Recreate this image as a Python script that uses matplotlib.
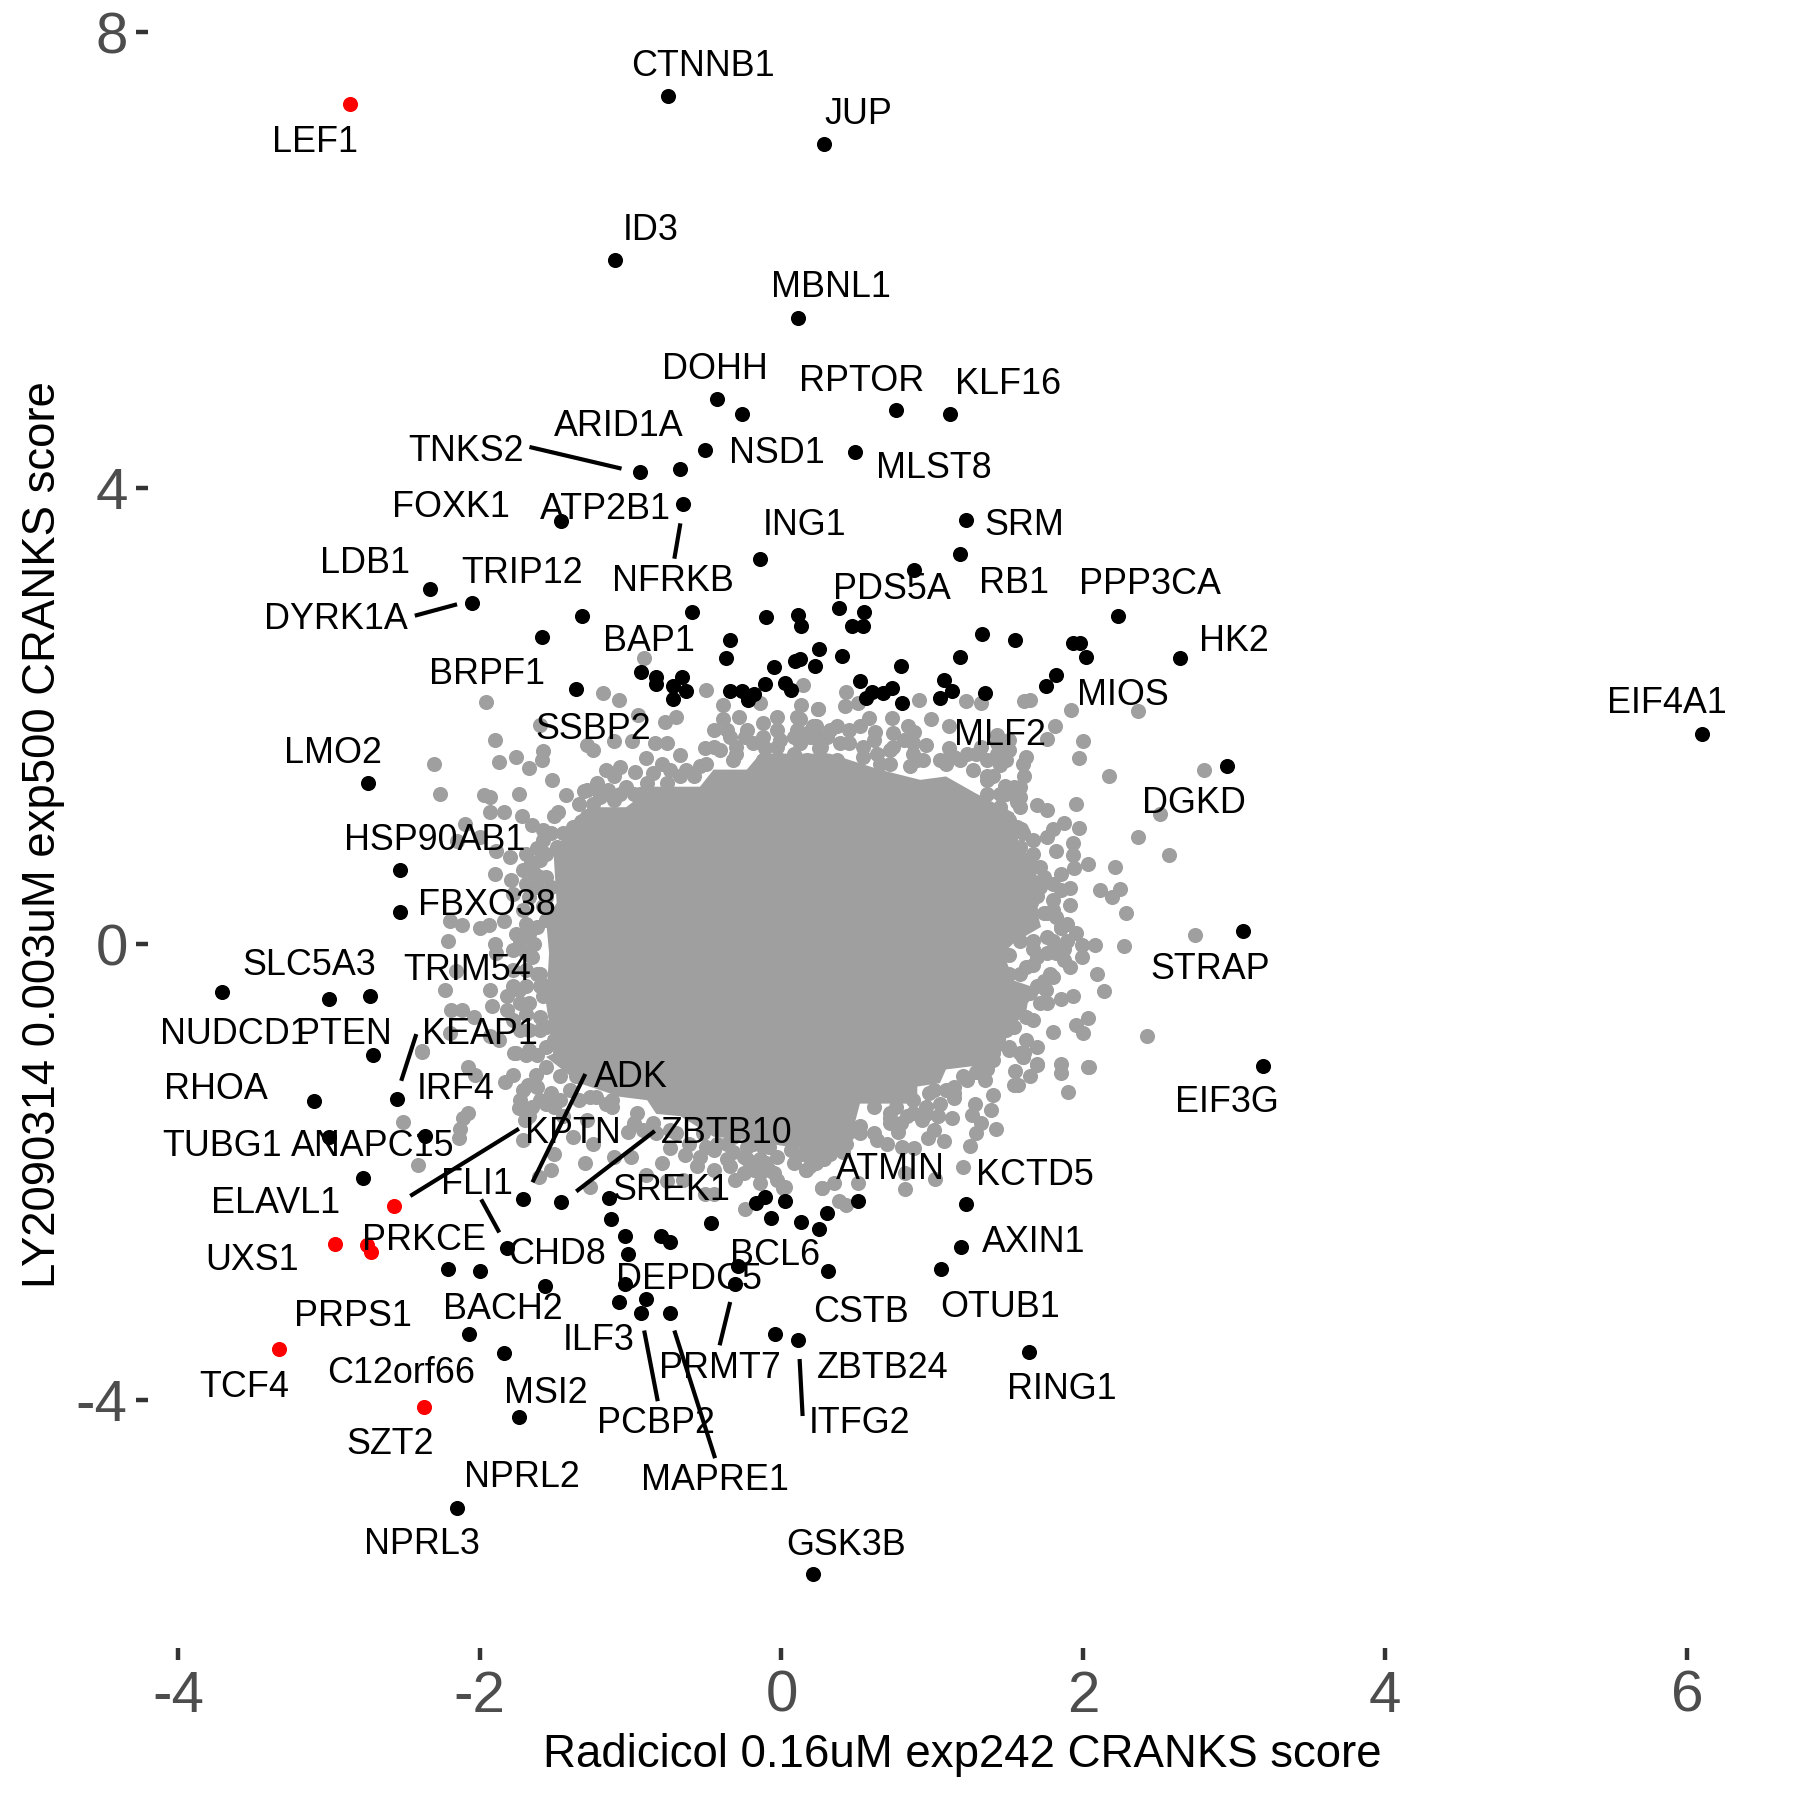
import matplotlib
matplotlib.use("Agg")
import matplotlib.pyplot as plt

plt.rcParams['font.family'] = ['Liberation Sans', 'DejaVu Sans']

# Solid centre of the grey cloud: outline read from the picture, since single points cannot be told apart there
core_outline = [(-1.51,-0.96),(-1.56,-0.52),(-1.54,-0.08),(-1.56,0.21),(-1.49,0.36),(-1.51,0.79),(-1.36,1.12),(-1.25,1.20),
    (-1.03,1.20),(-0.85,1.38),(-0.54,1.38),(-0.45,1.53),(-0.23,1.53),(-0.14,1.67),(0.32,1.67),(0.65,1.53),(0.92,1.44),(1.09,1.47),
    (1.29,1.32),(1.54,1.15),(1.58,0.82),(1.67,0.65),(1.75,0.47),(1.69,0.30),(1.72,0.15),(1.54,0.01),(1.47,-0.08),(1.54,-0.32),
    (1.65,-0.37),(1.62,-0.61),(1.50,-0.75),(1.48,-0.90),(1.40,-1.05),(1.09,-1.10),(1.05,-1.22),(0.90,-1.25),(0.90,-1.40),
    (0.52,-1.40),(0.48,-1.60),(0.32,-1.82),(0.15,-1.80),(-0.23,-1.72),(-0.45,-1.69),(-0.67,-1.51),
    (-0.83,-1.49),(-0.89,-1.37),(-1.07,-1.34),(-1.34,-1.22),(-1.56,-0.99)]

grey_upper_left = [(-0.91,2.51),(-1.96,2.12),(-1.18,2.20),(-1.08,2.14),(-0.50,2.23),(0.14,2.27),(-0.39,2.10),(-0.14,2.11),
    (0.24,2.06),(0.13,2.10),(-0.77,1.95),(-0.70,1.99),(-0.95,2.01),(-1.60,1.92),(-1.90,1.79),(-2.30,1.58),(-1.87,1.60),
    (-1.76,1.64),(-1.67,1.54),(-1.58,1.69),(-1.59,1.61),(-1.52,1.44),(-2.26,1.32),(-1.97,1.31),(-1.93,1.29),(-1.74,1.32),
    (-1.93,1.16),(-1.84,1.16),(-2.10,1.05),(-1.72,1.12),(-1.65,1.04),(-2.15,0.90),(-2.00,0.94),(-1.89,0.82),(-1.80,0.76),
    (-1.90,0.61),(-1.79,0.56),(-1.71,0.65),(-1.66,0.72),(-1.62,0.84),(-1.58,1.00),(-1.51,1.12),(-1.48,1.16),(-1.43,1.31),
    (-1.31,1.34),(-1.34,1.23),(-1.22,1.41),(-1.16,1.53),(-1.07,1.55),(-0.97,1.51),(-0.90,1.63),(-0.79,1.58),(-0.67,1.66),
    (-0.54,1.56),(-0.84,1.76),(-0.76,1.76),(-0.99,1.78),(-1.11,1.78),(-1.29,1.75),(-1.25,1.70),(-0.45,1.88),(-0.51,1.72),
    (-0.36,1.88),(-0.28,1.99),(-0.24,1.82),(-0.30,1.67),(-0.12,1.94),(-0.03,1.99),(0.10,1.99),(0.23,1.91),(-0.11,1.72),
    (-0.03,1.73),(0.25,1.72),(-0.39,1.97),(-1.15,1.35),(-1.07,1.32),(-0.94,1.32),(-2.20,0.20),(-2.12,0.17),(-2.21,0.03),
    (-2.00,0.14),(-1.94,0.17),(-1.84,0.20),(-1.76,0.09),(-1.73,0.03),(-1.90,0.00),(-2.16,-0.24),(-2.23,-0.40),(-1.93,-0.40),
    (-1.89,-0.08),(-1.92,-0.54),(-2.19,-0.58),(-2.12,-0.58),(-2.04,-0.64),(-2.20,-0.78),(-1.93,-0.81),(-1.87,-0.84),
    (-2.38,-0.95),(-1.77,-0.96),(-1.69,-0.97),(-1.74,-0.40),(-1.73,-0.52),(-1.69,-0.61),(-1.82,-0.58),(-1.60,-0.75),
    (-1.47,-0.96),(-1.65,-0.11),(-1.62,-0.26),(-1.58,-0.46),(-1.64,0.00),(-1.56,0.21),(-1.62,0.15),(-1.56,0.59),(-1.42,0.62),
    (-1.60,0.74),
    (-0.45,1.73),(-0.34,1.82),(-0.23,1.88),(-0.32,1.61),(-0.12,1.82),(-0.03,1.88),(0.10,1.88),(0.12,1.76),(0.19,1.82),(0.30,1.82),
    (-0.01,1.61),(0.08,1.67),(0.19,1.56),(-0.12,1.61),(-0.58,1.47),(-0.67,1.47),(-0.76,1.41),(-0.89,1.41),(-0.98,1.32),(-1.11,1.47),
    (-1.20,1.32),(-1.25,1.23),(-1.29,1.12),(-1.38,1.03),(-1.45,0.97),(-1.53,0.97),(-1.49,0.85),(-1.56,0.79),(-1.64,0.62),(-1.53,0.50),
    (-1.62,0.50),(-1.71,0.30),(-1.58,0.33),(-1.67,0.09),(-1.60,-0.37),(-1.69,-0.37),(-1.60,-0.26),(-1.67,-0.08),(-1.60,-0.64),
    (-1.67,-0.75),(-1.56,-0.90),(-1.78,-0.37),(-1.78,-0.67)]

grey_fringe_top_left = [(-1.29,1.35),(-1.20,1.29),(-1.11,1.26),(-1.03,1.38),(-0.85,1.50),(-0.74,1.53),(-0.63,1.53),(-0.50,1.58),
    (-0.41,1.70),(-0.30,1.73),(-0.19,1.76),(-0.01,1.79),(0.17,1.85),(0.25,1.82),(-1.58,0.91),(-1.69,0.79),(-1.60,0.59),(-1.69,0.53),
    (-1.78,0.44),(-1.67,0.41),(-1.56,0.41),(-1.69,0.18),(-1.78,-0.05),(-1.69,-0.08),(-1.78,-0.23),(-1.69,-0.23),(-1.82,-0.46),
    (-1.67,-0.52),(-1.56,-0.37),(-1.73,-0.75),(-1.56,-0.73),(-1.51,-0.84),(-1.67,-0.93)]

grey_upper_right = [(0.43,2.21),(0.91,2.14),(1.22,2.13),(1.32,2.11),(1.61,2.13),(1.65,2.14),(1.92,2.05),(2.36,2.04),
    (0.24,2.06),(0.42,2.09),(0.51,2.11),(0.99,1.97),(1.11,1.91),(0.73,1.98),(0.58,1.98),(0.52,1.91),(0.62,1.86),(0.84,1.91),
    (0.88,1.86),(0.96,1.75),(1.81,1.91),(1.76,1.80),(1.43,1.83),(1.32,1.73),(1.11,1.72),(2.00,1.78),(1.97,1.63),(2.17,1.47),
    (2.80,1.53),(1.62,1.64),(1.61,1.47),(1.45,1.57),(1.36,1.47),(1.48,1.39),(1.58,1.38),(1.95,1.23),(1.56,1.25),(1.69,1.22),
    (1.76,1.18),(2.51,1.14),(1.87,1.06),(1.80,1.01),(1.97,1.02),(1.59,1.01),(1.67,0.91),(1.76,0.94),(2.36,0.94),(1.93,0.89),
    (1.82,0.82),(1.93,0.78),(2.57,0.78),(2.03,0.70),(2.21,0.68),(1.94,0.67),(1.85,0.61),(1.67,0.68),(1.74,0.59),(2.11,0.47),
    (2.24,0.48),(2.19,0.41),(1.91,0.49),(2.28,0.27),(1.91,0.34),(1.80,0.30),(1.89,0.18),(1.85,0.14),(1.95,0.10),(2.74,0.08),
    (2.08,-0.01),(2.27,-0.02),(1.99,-0.01),(1.99,-0.11),(1.87,-0.04),(1.91,-0.20),(1.82,-0.08),(2.09,-0.26),(2.14,-0.41),
    (1.80,-0.29),(1.67,-0.18),(1.62,-0.20),(1.67,-0.04),(1.51,-0.10),(1.93,-0.46),(1.85,-0.48),(1.75,-0.40),(1.71,-0.52),
    (2.03,-0.65),(1.95,-0.71),(2.00,-0.78),(1.80,-0.77),(2.42,-0.81),(1.67,-0.67),(1.62,-0.84),(1.69,-0.90),(1.85,-1.05),
    (2.03,-1.08),(1.51,-0.90),(1.43,-0.87),(1.60,-0.99),(1.40,-1.02),(1.69,-1.05),
    (0.12,1.97),(0.21,1.91),(0.37,1.91),(0.12,1.76),(0.26,1.73),(0.39,1.76),(0.28,1.61),(0.37,1.61),(0.45,1.76),(0.54,1.73),(0.63,1.67),
    (0.74,1.85),(0.72,1.70),(0.81,1.79),(0.72,1.58),(0.87,1.67),(0.94,1.61),(0.85,1.56),(1.09,1.61),(1.18,1.61),(1.29,1.67),(1.43,1.67),
    (1.51,1.70),(1.27,1.53),(1.40,1.47),(1.49,1.32),(1.58,1.29),(1.45,1.20),(1.36,1.32),(1.56,1.03),(1.54,0.82),(1.62,0.74),(1.71,0.50),
    (1.85,0.47),(1.76,0.27),(1.82,0.24),(1.76,0.06),(1.67,0.03),(1.80,0.03),(1.58,0.03),(1.51,-0.26),(1.69,-0.37),(1.60,-0.46),(1.76,-0.52),
    (1.54,-0.58),(1.43,-0.72),(1.54,-0.73)]

grey_fringe_right = [(1.36,1.44),(1.45,1.32),(1.54,1.38),(1.58,1.20),(1.51,1.09),(1.60,0.97),(1.49,0.97),(1.58,0.85),(1.67,0.79),
    (1.71,0.68),(1.80,0.53),(1.67,0.53),(1.80,0.39),(1.69,0.42),(1.74,0.27),(1.65,0.30),(1.85,0.15),(1.89,0.03),(1.82,-0.02),
    (1.76,-0.08),(1.69,-0.11),(1.87,-0.14),(1.58,-0.26),(1.74,-0.32),(1.78,-0.26),(1.65,-0.43),(1.54,-0.40),(1.51,-0.52),(1.43,-0.61),
    (1.62,-0.64),(1.36,-0.84),(1.49,-0.75),(1.58,-0.96),(0.21,1.82),(0.32,1.88),(0.45,1.88),(0.61,1.79),(0.74,1.73),(0.87,1.76),
    (0.90,1.61),(0.65,1.58),(0.54,1.64),(0.17,1.61),(0.08,1.82),(1.09,1.58),(1.23,1.67),(1.36,1.61),(1.14,1.64),(1.05,1.61),(1.49,1.61),
    (1.60,1.58),(1.43,1.76),(1.51,1.79)]

grey_lower_right = [(1.85,-1.13),(2.04,-1.08),(1.90,-1.30),(1.69,-1.06),(1.65,-1.16),(1.54,-1.24),(1.57,-1.24),(1.55,-1.11),
    (1.61,-0.96),(1.40,-1.32),(1.39,-1.46),(1.42,-1.62),(1.28,-1.40),(1.26,-1.50),(1.32,-1.57),(1.29,-1.66),(1.25,-1.77),
    (1.20,-1.96),(1.13,-1.53),(1.04,-1.51),(1.01,-1.63),(0.97,-1.70),(1.08,-1.73),(1.14,-1.35),(1.35,-1.19),(1.29,-1.12),
    (0.93,-1.54),(0.88,-1.79),(0.80,-1.78),(0.77,-1.65),(0.70,-1.75),(0.63,-1.72),(0.72,-1.53),(1.02,-2.06),(0.82,-2.15),
    (0.82,-2.01),(0.51,-2.10),(0.38,-2.25),(0.43,-2.29),(0.27,-2.14),(0.35,-2.10),(0.16,-1.98),(0.44,-1.66),(0.38,-1.78),
    (0.18,-1.85),(0.26,-1.89),(0.41,-1.82),(0.52,-1.66),(0.01,-2.14),(0.13,-1.68),
    (1.51,-0.93),(1.40,-0.96),(1.36,-1.10),(1.20,-1.16),(1.14,-1.25),(1.01,-1.28),(1.05,-1.40),(0.96,-1.49),(0.87,-1.48),(0.72,-1.48),
    (0.61,-1.43),(0.83,-1.51),(0.43,-1.75),(0.32,-1.75),(0.21,-1.87),(0.28,-1.81),(0.50,-1.63)]

grey_fringe_lower = [(1.60,-0.99),(1.40,-0.84),(1.36,-1.02),(1.32,-1.10),(1.23,-1.19),(1.14,-1.31),(1.09,-1.28),(0.98,-1.31),(0.96,-1.43),
    (0.87,-1.37),(0.76,-1.43),(0.72,-1.57),(0.79,-1.57),(0.61,-1.66),(0.52,-1.60),(0.43,-1.66),(0.32,-1.84),(0.23,-1.92),(0.14,-1.84),
    (0.26,-1.72),(-1.47,-1.16),(-1.27,-1.34),(-1.12,-1.37),(-0.98,-1.57),(-1.34,-1.37),(-1.53,-1.31),(-1.62,-1.25),(-1.71,-1.28),
    (-0.83,-1.66),(-0.70,-1.66),(-0.61,-1.75),(-0.43,-1.75),(-0.32,-1.69),(-0.19,-1.75),(-0.08,-1.78),(0.06,-1.81),(0.19,-1.78),
    (0.28,-1.89),(-0.54,-1.87),(-0.36,-1.89),(-0.25,-1.87),(-0.08,-1.98),(-0.14,-2.01)]

grey_lower_left = [(-2.38,-0.94),(-2.08,-1.08),(-2.03,-1.15),(-1.78,-1.15),(-1.83,-1.21),(-1.73,-1.37),(-1.74,-1.44),
    (-2.08,-1.48),(-2.11,-1.53),(-2.13,-1.62),(-2.14,-1.70),(-2.51,-1.56),(-2.41,-1.94),(-1.70,-1.54),(-1.71,-1.72),
    (-1.63,-1.15),(-1.68,-1.24),(-1.60,-1.37),(-1.51,-1.43),(-1.47,-1.37),(-1.36,-1.16),(-1.56,-1.08),(-1.76,-0.96),
    (-1.62,-0.97),(-1.51,-1.84),(-1.53,-1.98),(-1.61,-2.04),(-1.30,-1.92),(-1.27,-2.13),(-1.38,-1.69),(-1.25,-1.75),
    (-1.11,-1.87),(-1.00,-1.87),(-1.02,-1.65),(-1.12,-1.43),(-1.16,-1.40),(-0.79,-1.92),(-0.90,-2.03),(-0.64,-1.85),
    (-0.50,-1.78),(-0.56,-1.95),(-0.85,-1.57),(-0.74,-1.79),(-0.32,-1.82),(-0.23,-1.89),(-0.45,-1.98),(-0.31,-2.07),
    (-0.18,-1.98),(-0.10,-1.92),(-0.14,-2.10),(-0.03,-2.07),(0.02,-2.13),(-0.45,-2.19),(-0.51,-2.19),(-0.24,-2.32),
    (-0.65,-2.07),(-0.76,-2.08),(0.16,-1.98),(0.27,-2.14),(0.17,-1.84),(0.30,-1.78),(-0.12,-1.78),
    (-1.23,-1.34),(-1.40,-1.28),(-1.45,-1.51),(-1.29,-1.54),(-0.96,-1.48),(-0.92,-1.63),(-0.74,-1.63),(-0.52,-1.66),(-0.45,-1.81),
    (-0.36,-1.75),(-0.23,-1.78),(-0.14,-1.89),(-0.03,-1.87),(0.08,-1.92),(0.19,-1.95),(-1.65,-1.43),(-1.56,-1.40),(-1.67,-1.51),
    (-0.05,-2.01),(-0.34,-1.95),(-0.25,-2.01)]

red_points = [(-2.86,7.37),(-2.57,-2.30),(-2.96,-2.63),(-2.75,-2.64),(-2.72,-2.70),(-3.33,-3.55),(-2.37,-4.06)]

black_top = [(-0.75,7.44),(0.28,7.02),(-1.10,6.00),(0.11,5.49),(-0.43,4.78),(-0.26,4.65),(0.76,4.68),(1.12,4.65),(-0.51,4.33),
    (0.49,4.32),(-0.94,4.14),(-0.67,4.17),(-0.65,3.86),(-1.46,3.71),(1.22,3.72),(-0.14,3.38),(1.18,3.42),(0.88,3.28),
    (-2.33,3.11),(-2.05,2.99),(-1.32,2.88),(-0.59,2.91),(0.38,2.95),(0.11,2.89),(-0.10,2.87),(0.55,2.91),(2.23,2.88)]

black_band = [(-1.59,2.69),(-0.34,2.67),(-0.37,2.51),(0.13,2.79),(0.25,2.59),(0.12,2.50),(0.09,2.48),(0.22,2.44),(-0.05,2.43),
    (-0.93,2.39),(-0.83,2.34),(-0.83,2.28),(-0.66,2.34),(-0.72,2.26),(-0.63,2.22),(-0.72,2.15),(-1.36,2.24),(-0.34,2.22),
    (-0.26,2.22),(-0.22,2.14),(-0.18,2.19),(-0.11,2.28),(0.02,2.29),(0.06,2.23),(0.47,2.79),(0.54,2.79),(0.40,2.53),(0.79,2.44),
    (1.33,2.72),(1.55,2.67),(1.93,2.64),(1.98,2.64),(2.02,2.52),(2.64,2.51),(1.18,2.52),(1.82,2.36),(1.75,2.26),(1.08,2.32),
    (1.13,2.22),(1.05,2.16),(1.35,2.20),(0.52,2.31),(0.73,2.25),(0.67,2.20),(0.60,2.21),(0.56,2.16),(0.80,2.11)]

black_sides = [(2.95,1.56),(-2.74,1.41),(6.10,1.84),(-2.53,0.65),(-2.53,0.28),(3.06,0.11),(-3.71,-0.42),(-3.00,-0.48),
    (-2.73,-0.46),(-2.71,-0.97),(3.19,-1.07),(-3.10,-1.38),(-2.55,-1.36),(-3.00,-1.69),(-2.36,-1.68),(-2.77,-2.05)]

black_bottom = [(-1.71,-2.24),(-1.46,-2.26),(-1.14,-2.23),(-1.13,-2.41),(-1.04,-2.56),(-1.02,-2.72),(-0.80,-2.56),(-0.74,-2.61),
    (-0.47,-2.45),(-1.82,-2.67),(-2.21,-2.85),(-2.00,-2.87),(-1.57,-3.00),(-1.04,-2.98),(-1.08,-3.14),(-0.90,-3.11),
    (-0.93,-3.24),(-0.74,-3.24),(-2.07,-3.42),(-1.84,-3.59),(-1.74,-4.15),(-0.29,-2.82),(-0.31,-2.98),(-0.04,-3.42),
    (0.11,-3.47),(-0.17,-2.27),(-0.11,-2.22),(0.02,-2.25),(-0.07,-2.40),(0.13,-2.44),(0.25,-2.50),(0.30,-2.36),(0.31,-2.87),
    (0.51,-2.25),(1.22,-2.28),(1.19,-2.66),(1.06,-2.85),(1.64,-3.58),(-2.15,-4.95),(0.21,-5.53)]

connectors = [((-1.67,4.36),(-1.06,4.17)),((-2.43,2.88),(-2.15,2.98)),((-0.67,3.69),(-0.71,3.38)),((-2.42,-0.79),(-2.52,-1.20)),
    ((-1.74,-1.62),(-2.46,-2.21)),((-1.30,-1.14),(-1.65,-2.09)),((-0.84,-1.64),(-1.36,-2.17)),((-1.99,-2.24),(-1.87,-2.53)),
    ((-0.34,-3.14),(-0.41,-3.52)),((-0.91,-3.39),(-0.82,-4.01)),((-0.71,-3.39),(-0.44,-4.51)),((0.12,-3.64),(0.14,-4.14))]

gene_labels = [("LEF1",-3.09,7.03),("CTNNB1",-0.52,7.70),("JUP",0.51,7.28),("ID3",-0.87,6.26),("MBNL1",0.33,5.76),("DOHH",-0.44,5.04),
    ("RPTOR",0.53,4.93),("KLF16",1.50,4.91),("ARID1A",-1.08,4.54),("TNKS2",-2.09,4.32),("NSD1",-0.03,4.30),("MLST8",1.01,4.17),
    ("FOXK1",-2.19,3.83),("ATP2B1",-1.17,3.81),("ING1",0.15,3.67),("SRM",1.61,3.67),("LDB1",-2.76,3.34),("TRIP12",-1.72,3.25),
    ("NFRKB",-0.72,3.18),("PDS5A",0.73,3.11),("RB1",1.54,3.16),("PPP3CA",2.44,3.15),("DYRK1A",-2.95,2.85),("BAP1",-0.88,2.65),
    ("HK2",3.00,2.65),("BRPF1",-1.95,2.36),("MIOS",2.26,2.18),("SSBP2",-1.25,1.88),("MLF2",1.45,1.83),("EIF4A1",5.87,2.11),
    ("LMO2",-2.97,1.67),("DGKD",2.73,1.23),("HSP90AB1",-2.30,0.91),("FBXO38",-1.95,0.34),("SLC5A3",-3.13,-0.19),("TRIM54",-2.08,-0.23),
    ("STRAP",2.84,-0.22),("NUDCD1",-3.62,-0.79),("PTEN",-2.90,-0.79),("KEAP1",-2.00,-0.79),("RHOA",-3.75,-1.28),("IRF4",-2.16,-1.28),
    ("ADK",-1.00,-1.17),("EIF3G",2.95,-1.39),("TUBG1",-3.71,-1.78),("ANAPC15",-2.71,-1.78),("KPTN",-1.38,-1.66),("ZBTB10",-0.36,-1.66),
    ("ATMIN",0.72,-1.98),("KCTD5",1.68,-2.03),("FLI1",-2.02,-2.11),("SREK1",-0.73,-2.16),("ELAVL1",-3.35,-2.28),("PRKCE",-2.37,-2.60),
    ("AXIN1",1.67,-2.62),("CHD8",-1.49,-2.72),("BCL6",-0.04,-2.73),("UXS1",-3.51,-2.78),("DEPDC5",-0.61,-2.94),("OTUB1",1.45,-3.19),
    ("CSTB",0.53,-3.23),("BACH2",-1.85,-3.21),("PRPS1",-2.84,-3.27),("ILF3",-1.21,-3.48),("PRMT7",-0.41,-3.72),("ZBTB24",0.67,-3.72),
    ("C12orf66",-2.52,-3.77),("TCF4",-3.56,-3.89),("RING1",1.86,-3.91),("MSI2",-1.56,-3.94),("PCBP2",-0.83,-4.21),("ITFG2",0.52,-4.21),
    ("SZT2",-2.59,-4.39),("NPRL2",-1.72,-4.68),("MAPRE1",-0.44,-4.71),("NPRL3",-2.38,-5.27),("GSK3B",0.43,-5.28)]

x_ticks = [-4, -2, 0, 2, 4, 6]
y_ticks = [-4, 0, 4, 8]
x_title = "Radicicol 0.16uM exp242 CRANKS score"
y_title = "LY2090314 0.003uM exp500 CRANKS score"

GREY = "#9F9F9F"
fig = plt.figure(figsize=(18, 18), dpi=100)
ax = fig.add_axes([148/1800, 152/1800, 1632/1800, 1638/1800])
ax.set_xlim(-4.198, 6.617)
ax.set_ylim(-6.175, 8.193)
for s in ax.spines.values():
    s.set_visible(False)

ax.fill([p[0] for p in core_outline], [p[1] for p in core_outline], color=GREY, lw=0, zorder=1)
grey = (grey_upper_left + grey_fringe_top_left + grey_upper_right + grey_fringe_right
        + grey_lower_right + grey_fringe_lower + grey_lower_left)
ax.scatter([p[0] for p in grey], [p[1] for p in grey], s=118, c=GREY, lw=0, zorder=2)
black = black_top + black_band + black_sides + black_bottom
ax.scatter([p[0] for p in black], [p[1] for p in black], s=118, c="black", lw=0, zorder=3)
ax.scatter([p[0] for p in red_points], [p[1] for p in red_points], s=118, c="#FF0000", lw=0, zorder=3)

for a, b in connectors:
    ax.plot([a[0], b[0]], [a[1], b[1]], color="black", lw=3.0, solid_capstyle="butt", zorder=4)
for name, lx, ly in gene_labels:
    ax.text(lx, ly, name, fontsize=25.8, color="black", ha="center", va="center", zorder=5)

ax.set_xticks(x_ticks, [str(v) for v in x_ticks])
ax.set_yticks(y_ticks, [str(v) for v in y_ticks])
ax.tick_params(axis="both", length=8.6, width=3.2, color="#333333", labelcolor="#4D4D4D", labelsize=42)
ax.tick_params(axis="x", pad=7)
ax.tick_params(axis="y", pad=6)

fig.text(962/1800, 1-1755/1800, x_title, fontsize=32.9, color="black", ha="center", va="center")
fig.text(43.5/1800, 1-835/1800, y_title, fontsize=32.8, color="black", ha="center", va="center", rotation=90)
fig.savefig("out.png", dpi=100, facecolor="white")
